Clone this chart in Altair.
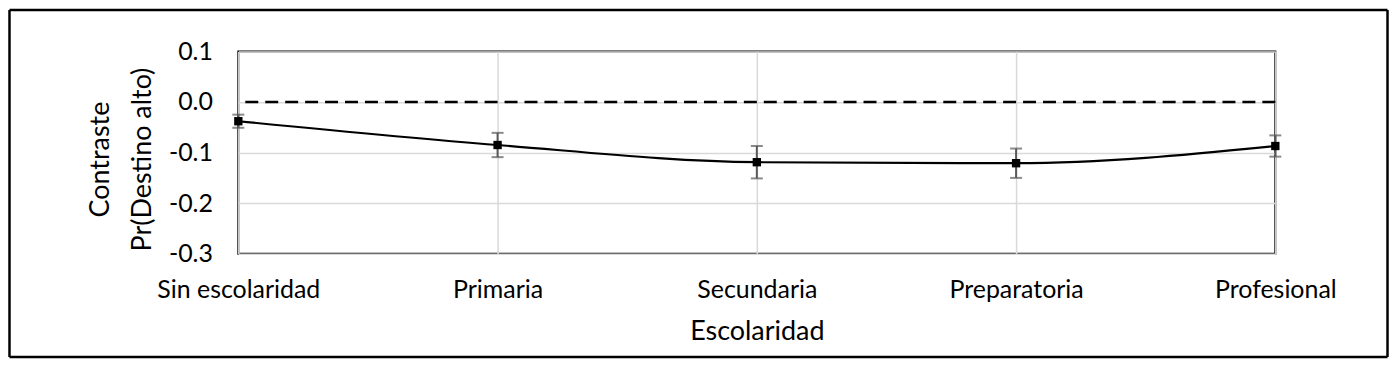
import altair as alt
import pandas as pd

categories = ["Sin escolaridad", "Primaria", "Secundaria", "Preparatoria", "Profesional"]
estimates = [-0.038, -0.085, -0.119, -0.121, -0.087]
errors = [0.013, 0.024, 0.032, 0.029, 0.021]
y_ticks = [-0.3, -0.2, -0.1, 0.0, 0.1]
ref_value = [0.0]

df = pd.DataFrame({
    "cat": categories,
    "est": estimates,
    "lo": [e - d for e, d in zip(estimates, errors)],
    "hi": [e + d for e, d in zip(estimates, errors)],
})
ref = pd.DataFrame({"v": ref_value})

FONT = "Lato"

x_enc = alt.X(
    "cat:N",
    sort=categories,
    scale=alt.Scale(type="point", padding=0),
    axis=alt.Axis(
        title="Escolaridad", labelAngle=0, grid=True, ticks=False, domain=False,
        gridColor="#d9d9d9", gridWidth=1.5, labelPadding=24, titlePadding=16,
    ),
)
y_scale = alt.Scale(domain=[-0.3, 0.1], nice=False, zero=False)
y_enc = alt.Y(
    "est:Q",
    scale=y_scale,
    axis=alt.Axis(
        title=["Contraste", "Pr(Destino alto)"], values=y_ticks, grid=True, ticks=False,
        domain=False, gridColor="#d9d9d9", gridWidth=1.5, labelPadding=26,
        titlePadding=12, titleLineHeight=42, titleY=108,
        labelExpr="replace(format(datum.value, '.1f'), '\u2212', '-')",
    ),
)

base = alt.Chart(df)

ref_line = alt.Chart(ref).mark_rule(color="black", strokeWidth=2.5, strokeDash=[13, 7]).encode(
    y=alt.Y("v:Q", scale=y_scale)
)

err_rule = base.mark_rule(color="#595959", strokeWidth=2).encode(
    x=x_enc, y=alt.Y("lo:Q", scale=y_scale), y2="hi:Q"
)
cap_lo = base.mark_tick(color="#595959", orient="horizontal", size=12, thickness=2).encode(
    x=alt.X("cat:N", sort=categories), y=alt.Y("lo:Q", scale=y_scale)
)
cap_hi = base.mark_tick(color="#595959", orient="horizontal", size=12, thickness=2).encode(
    x=alt.X("cat:N", sort=categories), y=alt.Y("hi:Q", scale=y_scale)
)
line = base.mark_line(color="black", strokeWidth=2.2, interpolate="monotone").encode(
    x=x_enc, y=y_enc
)
pts = base.mark_square(color="black", size=70, opacity=1).encode(
    x=alt.X("cat:N", sort=categories), y=alt.Y("est:Q", scale=y_scale)
)

# outer frame around the whole figure (decoration), kept inside the canvas
FL, FR, FT, FB = -229.5, 1152.5, -41.5, 306.5
frame_top = alt.Chart(ref).mark_rule(color="black", strokeWidth=2.5).encode(
    x=alt.value(FL), x2=alt.value(FR), y=alt.value(FT))
frame_bot = alt.Chart(ref).mark_rule(color="black", strokeWidth=2.5).encode(
    x=alt.value(FL), x2=alt.value(FR), y=alt.value(FB))
frame_left = alt.Chart(ref).mark_rule(color="black", strokeWidth=2.5).encode(
    x=alt.value(FL), y=alt.value(FT), y2=alt.value(FB))
frame_right = alt.Chart(ref).mark_rule(color="black", strokeWidth=2.5).encode(
    x=alt.value(FR), y=alt.value(FT), y2=alt.value(FB))

chart = alt.layer(
    line, ref_line, err_rule, cap_lo, cap_hi, pts,
    frame_top, frame_bot, frame_left, frame_right,
).properties(
    width=1040,
    height=203,
    padding={"left": 231, "top": 43, "right": 114, "bottom": 106},
    autosize=alt.AutoSizeParams(type="none"),
    background="white",
).configure_view(
    stroke="black", strokeWidth=2
).configure_axis(
    labelFont=FONT, titleFont=FONT, labelFontSize=25, titleFontSize=27,
    labelColor="black", titleColor="black", titleFontWeight="normal",
)

chart.save("out.html", embed_options={"renderer": "svg", "actions": False})
